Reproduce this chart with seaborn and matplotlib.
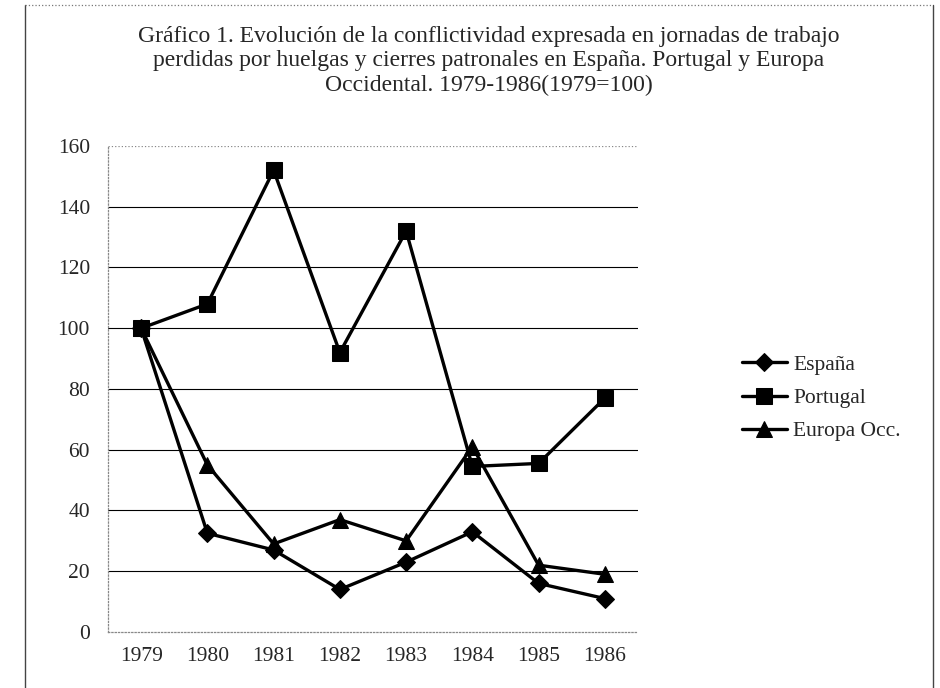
import matplotlib
matplotlib.use("Agg")
import matplotlib.pyplot as plt
from matplotlib.lines import Line2D
import pandas as pd
import seaborn as sns

years = [1979, 1980, 1981, 1982, 1983, 1984, 1985, 1986]
espana = [100, 32.5, 27, 14, 23, 33, 16, 11]
portugal = [100, 108, 152, 92, 132, 54.5, 55.5, 77]
europa = [100, 55, 29, 37, 30, 61, 22, 19]
series_names = ["España", "Portugal", "Europa Occ."]
y_ticks = [0, 20, 40, 60, 80, 100, 120, 140, 160]

title = ("Gráfico 1. Evolución de la conflictividad expresada en jornadas de trabajo\n"
         "perdidas por huelgas y cierres patronales en España. Portugal y Europa\n"
         "Occidental. 1979-1986(1979=100)")

df = pd.DataFrame({
    "year": years * 3,
    "value": espana + portugal + europa,
    "serie": [series_names[0]] * 8 + [series_names[1]] * 8 + [series_names[2]] * 8,
})

sns.set_style("white")
plt.rcParams["font.family"] = ["Liberation Serif", "DejaVu Serif"]

fig = plt.figure(figsize=(9.4, 6.88), dpi=100)
ax = fig.add_axes([0.1149, 0.0814, 0.5638, 0.7064])

markers = {"España": "D", "Portugal": "s", "Europa Occ.": "^"}
sizes = {"España": 9, "Portugal": 12, "Europa Occ.": 11}
for name in series_names:
    sub = df[df["serie"] == name]
    sns.lineplot(data=sub, x="year", y="value", ax=ax, color="black", linewidth=2.4,
                 marker=markers[name], markersize=sizes[name], markeredgecolor="black",
                 label=name, zorder=3)

ax.set_xlim(1978.5, 1986.5)
ax.set_ylim(0, 160)
ax.set_yticks(y_ticks)
ax.set_xticks(years)
ax.set_xticklabels([str(y) for y in years])
ax.set_xlabel("")
ax.set_ylabel("")
ax.tick_params(axis="both", labelsize=15.5, length=0)
ax.tick_params(axis="x", pad=11)
ax.tick_params(axis="y", pad=13)

for v in y_ticks[1:-1]:
    ax.axhline(v, color="black", linewidth=0.8, zorder=1)
ax.axhline(160, color="#888888", linewidth=0.9, linestyle=":", zorder=1)
for side in ["top", "right"]:
    ax.spines[side].set_visible(False)
for side in ["left", "bottom"]:
    ax.spines[side].set_color("#888888")
    ax.spines[side].set_linestyle(":")
    ax.spines[side].set_linewidth(0.9)

ax.legend(loc="center left", bbox_to_anchor=(0.789, 0.4215), bbox_transform=fig.transFigure,
          frameon=False, fontsize=15.5, handlelength=2.1, handletextpad=0.3,
          labelspacing=0.62, borderpad=0, borderaxespad=0)

fig.suptitle(title, x=0.52, y=0.962, fontsize=17, linespacing=1.2, va="top")

# marco exterior del gráfico
fig.add_artist(Line2D([0.0266, 0.0266], [0.0, 0.993], transform=fig.transFigure,
                      color="#444444", linewidth=1.0))
fig.add_artist(Line2D([0.0266, 0.9926], [0.993, 0.993], transform=fig.transFigure,
                      color="#777777", linewidth=0.9, linestyle=":"))
fig.add_artist(Line2D([0.9926, 0.9926], [0.0, 0.993], transform=fig.transFigure,
                      color="#444444", linewidth=1.0))

fig.savefig("out.png", dpi=100)
